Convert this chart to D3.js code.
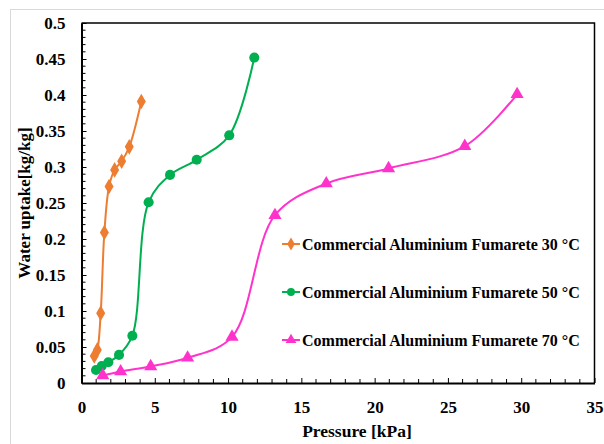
<!DOCTYPE html>
<html>
<head>
<meta charset="utf-8">
<script src="https://cdn.jsdelivr.net/npm/d3@7"></script>
<style>
  html, body { margin: 0; padding: 0; background: #fff; }
  svg { display: block; }
  svg text { font-family: "Liberation Serif", "DejaVu Serif", serif !important; font-weight: bold; fill: #000; }
</style>
</head>
<body>
<svg id="chart" width="604" height="444"></svg>
<script>
// Water uptake isotherms of commercial aluminium fumarate
const p30 = [0.87, 1.08, 1.31, 1.56, 1.88, 2.26, 2.74, 3.26, 4.08];
const u30 = [0.0375, 0.046, 0.097, 0.209, 0.273, 0.296, 0.308, 0.328, 0.391];

const p50 = [0.99, 1.38, 1.83, 2.56, 3.47, 4.58, 6.04, 7.86, 10.08, 11.79];
const u50 = [0.018, 0.0236, 0.0288, 0.039, 0.0657, 0.251, 0.289, 0.310, 0.344, 0.452];

const p70 = [1.45, 2.67, 4.72, 7.24, 10.27, 13.2, 16.7, 20.95, 26.15, 29.72];
const u70 = [0.0105, 0.016, 0.023, 0.035, 0.064, 0.233, 0.277, 0.298, 0.329, 0.401];

const seriesNames = [
  "Commercial Aluminium Fumarete 30 °C",
  "Commercial Aluminium Fumarete 50 °C",
  "Commercial Aluminium Fumarete 70 °C"
];
const seriesColors = ["#ED7D31", "#00B050", "#FF33CC"];
const seriesSymbols = [d3.symbolDiamond, d3.symbolCircle, d3.symbolTriangle];

const xTicks = [0, 5, 10, 15, 20, 25, 30, 35];
const yTicks = [0, 0.05, 0.1, 0.15, 0.2, 0.25, 0.3, 0.35, 0.4, 0.45, 0.5];

const svg = d3.select("#chart");
const plot = { left: 81.5, right: 594.5, top: 23, bottom: 383 };

const x = d3.scaleLinear().domain([0, 35]).range([plot.left, plot.right]);
const y = d3.scaleLinear().domain([0, 0.5]).range([plot.bottom, plot.top]);

// outer chart frame
svg.append("rect")
  .attr("x", 10.5).attr("y", 9.5)
  .attr("width", 620).attr("height", 460)
  .attr("fill", "none").attr("stroke", "#d9d9d9").attr("stroke-width", 1);

// plot border (top and right)
svg.append("path")
  .attr("d", `M${plot.left},${plot.top}H${plot.right}V${plot.bottom}`)
  .attr("fill", "none").attr("stroke", "#000").attr("stroke-width", 1.5);

// minor ticks
const xMinor = d3.range(0, 36, 1).filter(v => v % 5 !== 0);
const yMinor = d3.range(0, 51, 1).map(v => v / 100).filter((v, i) => i % 5 !== 0);

const gx = svg.append("g").attr("transform", `translate(0,${plot.bottom})`);
gx.selectAll("line.minor").data(xMinor).join("line")
  .attr("x1", d => x(d)).attr("x2", d => x(d))
  .attr("y1", 0).attr("y2", -4)
  .attr("stroke", "#000").attr("stroke-width", 1);

const gy = svg.append("g").attr("transform", `translate(${plot.left},0)`);
gy.selectAll("line.minor").data(yMinor).join("line")
  .attr("x1", 0).attr("x2", 4)
  .attr("y1", d => y(d)).attr("y2", d => y(d))
  .attr("stroke", "#000").attr("stroke-width", 1);

// major axes (ticks inside)
const xAxis = d3.axisBottom(x).tickValues(xTicks).tickSizeInner(-5).tickSizeOuter(0)
  .tickPadding(18).tickFormat(d3.format("d"));
gx.call(xAxis);
gx.attr("font-family", null);
gx.select(".domain").attr("stroke", "#000").attr("stroke-width", 2);
gx.selectAll(".tick line").attr("stroke", "#000");
gx.selectAll(".tick text").attr("font-size", 17);

const yAxis = d3.axisLeft(y).tickValues(yTicks).tickSizeInner(-5).tickSizeOuter(0)
  .tickPadding(16).tickFormat(d => d3.format("")(+d.toFixed(2)));
gy.call(yAxis);
gy.attr("font-family", null);
gy.select(".domain").attr("stroke", "#000").attr("stroke-width", 2);
gy.selectAll(".tick line").attr("stroke", "#000");
gy.selectAll(".tick text").attr("font-size", 17);

// axis titles
svg.append("text")
  .attr("x", 357).attr("y", 437)
  .attr("text-anchor", "middle").attr("font-size", 17.5)
  .text("Pressure [kPa]");

svg.append("text")
  .attr("transform", `translate(30,203) rotate(-90)`)
  .attr("text-anchor", "middle").attr("font-size", 17)
  .text("Water uptake[kg/kg]");

// series
const series = [
  { p: p30, u: u30 },
  { p: p50, u: u50 },
  { p: p70, u: u70 }
];
const markerSize = [70, 80, 75];

const line = d3.line()
  .x(d => x(d[0])).y(d => y(d[1]))
  .curve(d3.curveCatmullRom.alpha(0.5));

series.forEach((s, i) => {
  const pts = s.p.map((v, j) => [v, s.u[j]]);
  const g = svg.append("g");
  g.append("path")
    .attr("d", line(pts))
    .attr("fill", "none")
    .attr("stroke", seriesColors[i])
    .attr("stroke-width", 2);
  g.selectAll("path.m").data(pts).join("path")
    .attr("class", "m")
    .attr("transform", d => `translate(${x(d[0])},${y(d[1])})`)
    .attr("d", d3.symbol().type(seriesSymbols[i]).size(markerSize[i]))
    .attr("fill", seriesColors[i]);
});

// legend
const legend = svg.append("g");
const legendY = [244, 292, 340];
seriesNames.forEach((name, i) => {
  const gl = legend.append("g").attr("transform", `translate(282,${legendY[i]})`);
  gl.append("line").attr("x1", 0).attr("x2", 18).attr("y1", 0).attr("y2", 0)
    .attr("stroke", seriesColors[i]).attr("stroke-width", 2);
  gl.append("path").attr("transform", "translate(9,0)")
    .attr("d", d3.symbol().type(seriesSymbols[i]).size(50))
    .attr("fill", seriesColors[i]);
  gl.append("text").attr("x", 20).attr("y", 5.5)
    .attr("font-size", 16)
    .text(name);
});
</script>
</body>
</html>
